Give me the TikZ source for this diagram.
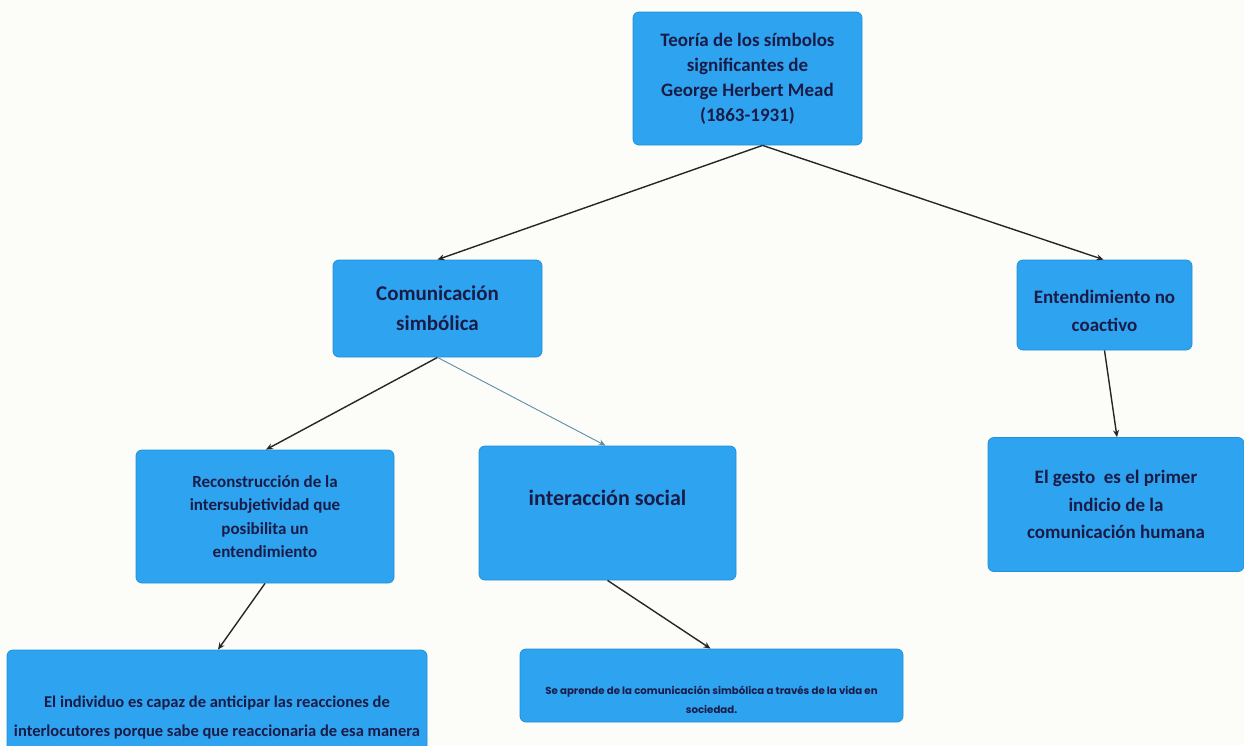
\documentclass[tikz,border=0pt]{standalone}
\usepackage{fontspec}
\setmainfont{Carlito}
\newfontfamily\popfont{Poppins}
\usetikzlibrary{arrows.meta}
\definecolor{fondo}{HTML}{FCFCF8}
\definecolor{caja}{HTML}{2EA3F0}
\definecolor{borde}{HTML}{2191DA}
\definecolor{letra}{HTML}{1A1C48}
\definecolor{gris}{HTML}{5E8DA8}
\tikzset{
  caja/.style={draw=borde,fill=caja,rounded corners=6pt,line width=.8pt,
    text=letra,font=\bfseries,align=center,inner sep=0pt},
  flecha/.style={-{Stealth[length=7pt,width=6pt]},line width=1.4pt,black!85}
}
\begin{document}
\begin{tikzpicture}[x=1pt,y=-1pt]
\fill[fondo] (0,0) rectangle (1244,745);
\useasboundingbox (0,0) rectangle (1244,745);
\clip (0,0) rectangle (1244,745);
% cajas
\node[caja,minimum width=229pt,minimum height=133pt,font=\bfseries\fontsize{19}{25}\selectfont] (teoria) at (747.5,78.5) {Teoría de los símbolos\\significantes de\\George Herbert Mead\\(1863-1931)};
\node[caja,minimum width=209pt,minimum height=97pt,font=\bfseries\fontsize{21}{30}\selectfont] (comunic) at (437.5,308.5) {Comunicación\\simbólica};
\node[caja,minimum width=175pt,minimum height=90pt,font=\bfseries\fontsize{19}{28}\selectfont] (entend) at (1104.5,305) {\rule{0pt}{26pt}Entendimiento no\\coactivo};
\node[caja,minimum width=256pt,minimum height=134pt,font=\bfseries\fontsize{19}{27.5}\selectfont] (gesto) at (1116,504.5) {El gesto\ \ es el primer\\indicio de la\\comunicación humana};
\node[caja,minimum width=258pt,minimum height=133pt,font=\bfseries\fontsize{17}{23.5}\selectfont] (reconst) at (265,516.5) {Reconstrucción de la\\intersubjetividad que\\posibilita un\\entendimiento};
\node[caja,minimum width=257pt,minimum height=134pt,font=\bfseries\fontsize{22}{28}\selectfont] (interac) at (607.5,513) {interacción social\\[2pt]};
\node[caja,minimum width=420pt,minimum height=134pt,font=\bfseries\fontsize{16.5}{29}\selectfont] (individuo) at (217,717) {El individuo es capaz de anticipar las reacciones de\\interlocutores porque sabe que reaccionaria de esa manera};
\node[caja,minimum width=383pt,minimum height=73pt,font=\popfont\bfseries\fontsize{10.2}{19}\selectfont] (aprende) at (711.5,685.5) {\rule{0pt}{38pt}Se aprende de la comunicación simbólica a través de la vida en\\sociedad.};
% flechas
\draw[flecha] ([xshift=15pt]teoria.south) -- (comunic.north);
\draw[flecha] ([xshift=15pt]teoria.south) -- ([xshift=-1pt]entend.north);
\draw[flecha] (comunic.south) -- ([xshift=1pt]reconst.north);
\draw[flecha,gris,line width=.9pt] (comunic.south) -- ([xshift=-2pt]interac.north);
\draw[flecha] (entend.south) -- ([xshift=1pt]gesto.north);
\draw[flecha] (reconst.south) -- ([xshift=1pt]individuo.north);
\draw[flecha] (interac.south) -- ([xshift=-1pt]aprende.north);
\end{tikzpicture}
\end{document}
